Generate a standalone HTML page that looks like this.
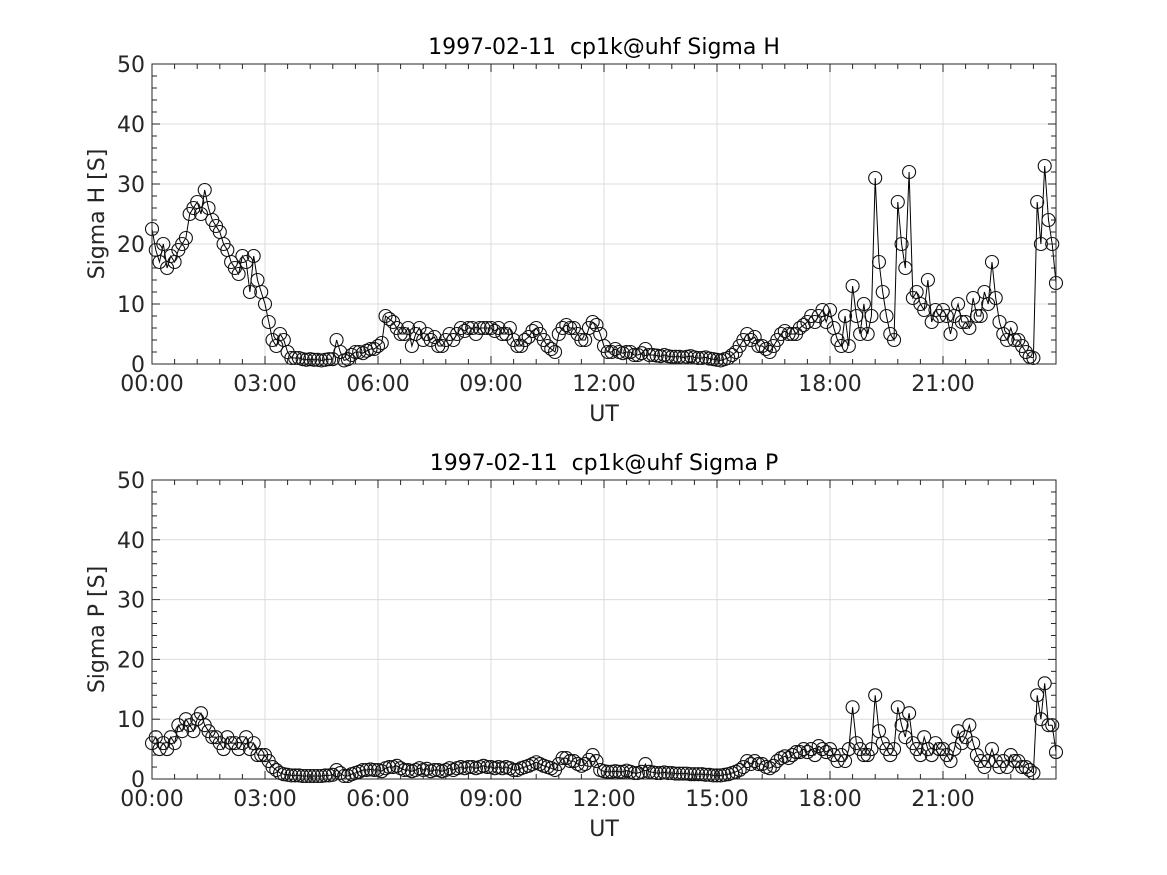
<!DOCTYPE html>
<html><head><meta charset="utf-8"><style>
body{margin:0;background:#fff;}
svg{display:block;font-family:"DejaVu Sans","Liberation Sans",sans-serif;}
</style></head><body>
<svg id="chart" width="1167" height="875" viewBox="0 0 1167 875"></svg>
<script>
const hourStep = 0.1;
const xTickLabels = ["00:00","03:00","06:00","09:00","12:00","15:00","18:00","21:00"];
const yTickLabels = [0,10,20,30,40,50];
const sigmaH = [
22.5,19,17,20,16,18,17,19,20,21,
25,26,27,25,29,26,24,23,22,20,
19,17,16,15,18,17,12,18,14,12,
10,7,4,3,5,4,2,1,1,1,
0.8,0.7,0.8,0.7,0.7,0.6,0.7,0.8,0.8,4,
2,0.6,0.8,1.5,2,2,1.8,2.2,2.5,2.5,
3,3.5,8,7.5,7,6,5,5,6,3,
5,6,4,5,4,4.5,3,3,4,5,
4,5,6,5.5,6,6,5,6,6,6,
6,5.5,6,5,5,6,4,3,3,4,
4.5,5.5,6,5,4,3,2.5,2,5,6,
6.5,6,6,5,4,4,6,7,6.5,5,
3,2,2,2.5,2,1.8,2,2,1.5,1.5,
1.8,2.5,1.5,1.5,1.4,1.3,1.5,1.3,1.2,1.2,
1.2,1.1,1.2,1.3,1.1,1,1,1.1,0.9,0.8,
0.7,0.6,0.8,1,1.5,2,3,4,5,4,
4.5,3,3,2.5,2,3,4,5,5.5,5,
5,5,6,6.5,7,8,7,8,9,7,
9,6,4,3,8,3,13,8,5,10,
5,8,31,17,12,8,5,4,27,20,
16,32,11,12,10,9,14,7,9,8,
9,8,5,8,10,7,7,6,11,8,
8,12,10,17,11,7,5,4,6,4,
4,3,2,1.2,1,27,20,33,24,20,13.5];
const sigmaP = [
6,7,5,6,5,7,6,9,8,10,
9,8,10,11,9,8,7,7,6,5,
7,6,6,5,6,7,5,6,4,4,
4,3,2,1.5,1,0.8,0.7,0.6,0.6,0.6,
0.5,0.5,0.5,0.5,0.5,0.5,0.6,0.6,0.7,1.5,
1,0.5,0.5,0.8,1,1.2,1.5,1.5,1.6,1.5,
1.5,1.3,1.8,2,2,2.2,1.8,1.5,1.5,1.3,
1.5,1.8,1.5,1.7,1.3,1.5,1.5,1.3,1.5,1.8,
1.5,1.8,2,1.8,2,2,1.8,2,2.2,2,
2,1.8,2,1.8,2,1.8,1.5,1.5,1.8,2,
2.2,2.5,2.8,2.5,2.2,2,1.8,1.5,2.5,3.5,
3.5,3,3,2.5,2.2,2.5,3.2,4,3,1.5,
1.3,1.2,1.2,1.3,1.2,1.2,1.4,1.2,1,1,
1.2,2.5,1.2,1.1,1,1,1.1,1,1,0.9,
0.9,0.9,0.9,0.8,0.8,0.8,0.8,0.7,0.7,0.6,
0.6,0.6,0.7,0.8,1,1.2,1.5,2,3,2.5,
3,2.5,2.5,2,1.8,2.2,3,3.5,3.8,3.5,
4,4.5,4.5,5,4.5,5,4,5.5,5,4.5,
5,4,3,4,3,5,12,6,5,4,
4,5,14,8,6,5,4,5,12,9,
7,11,6,5,4,7,5,4,6,5,
5,4,3,5,8,6,7,9,6,4,
3,2,3,5,3,2,3,2,4,3,
3,2,2,1.5,1,14,10,16,9,9,4.5];

const NS="http://www.w3.org/2000/svg";
const svg=document.getElementById('chart');
function mk(tag,attrs,parent){const e=document.createElementNS(NS,tag);for(const k in attrs)e.setAttribute(k,attrs[k]);(parent||svg).appendChild(e);return e;}

function panel(top,bottom,values,title,ylabel,key){
  const L=152,R=1056;
  const g=mk('g',{});
  
  
  const xs=h=>L+h/24*(R-L);
  const ys=v=>bottom-v/50*(bottom-top);
  for(let i=0;i<=8;i++){const x=xs(i*3);const l=mk('line',{x1:x,x2:x,y1:top,y2:bottom,stroke:'#dcdcdc','stroke-width':1},g);
    }
  yTickLabels.forEach(v=>{const y=ys(v);const l=mk('line',{x1:L,x2:R,y1:y,y2:y,stroke:'#dcdcdc','stroke-width':1},g);
    });
  const pts=values.map((v,i)=>xs(i*hourStep).toFixed(1)+','+ys(v).toFixed(1)).join(' ');
  const pl=mk('polyline',{points:pts,fill:'none',stroke:'#000','stroke-width':1},g);
  
  values.forEach((v,i)=>{const c=mk('circle',{cx:xs(i*hourStep),cy:ys(v),r:6.5,fill:'none',stroke:'#111','stroke-width':1.1},g);
    });
  const b=mk('rect',{x:L,y:top,width:R-L,height:bottom-top,fill:'none',stroke:'#262626','stroke-width':1},g);
  
  for(let i=0;i<=40;i++){const x=xs(i*0.6);const len=(i%5===0)?8:5;
    mk('line',{x1:x,x2:x,y1:bottom,y2:bottom-len,stroke:'#262626'},g);
    mk('line',{x1:x,x2:x,y1:top,y2:top+len,stroke:'#262626'},g);}
  for(let v=0;v<=50;v+=2){const y=ys(v);const len=(v%10===0)?8:5;
    mk('line',{x1:L,x2:L+len,y1:y,y2:y,stroke:'#262626'},g);
    mk('line',{x1:R,x2:R-len,y1:y,y2:y,stroke:'#262626'},g);}
  xTickLabels.forEach((t,i)=>{const e=mk('text',{x:xs(i*3),y:bottom+27,'text-anchor':'middle','font-size':22,fill:'#262626'},g);e.textContent=t;
    });
  yTickLabels.forEach(v=>{const e=mk('text',{x:L-7,y:ys(v)+8,'text-anchor':'end','font-size':22,fill:'#262626'},g);e.textContent=v;
    });
  const xt=mk('text',{x:604,y:bottom+57,'text-anchor':'middle','font-size':22,fill:'#262626'},g);xt.textContent='UT';
  
  const yt=mk('text',{x:0,y:0,'text-anchor':'middle','font-size':22,fill:'#262626',transform:`translate(104,${(top+bottom)/2}) rotate(-90)`},g);yt.textContent=ylabel;
  
  const tt=mk('text',{x:604,y:top-10,'text-anchor':'middle','font-size':22,fill:'#000','xml:space':'preserve'},g);tt.textContent=title;
  
}
panel(64,364,sigmaH,'1997-02-11\u00a0 cp1k@uhf Sigma H','Sigma H [S]','sigma-h');
panel(480,779,sigmaP,'1997-02-11\u00a0 cp1k@uhf Sigma P','Sigma P [S]','sigma-p');
</script>
</body></html>
